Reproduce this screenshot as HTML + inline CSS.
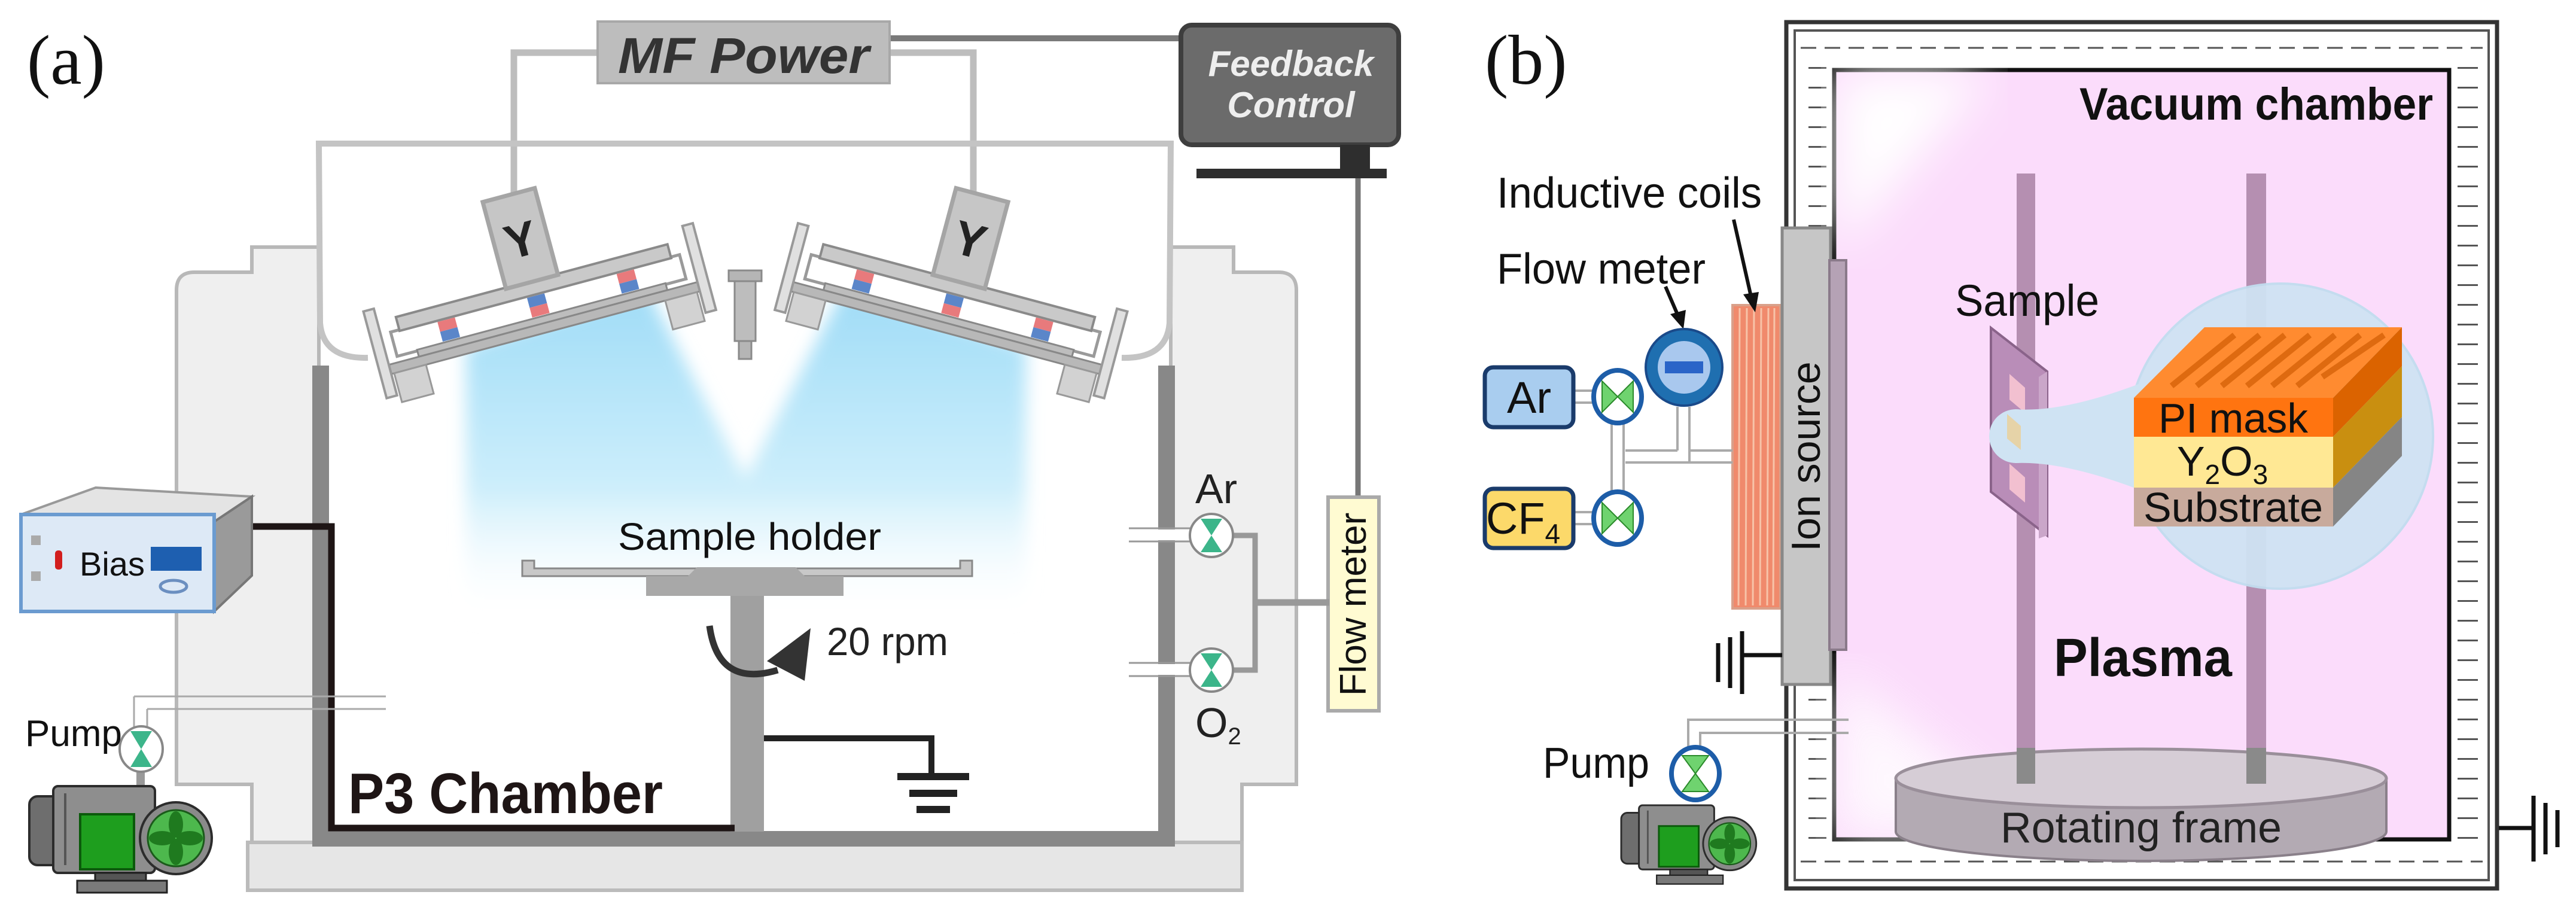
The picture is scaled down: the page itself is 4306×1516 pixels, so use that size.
<!DOCTYPE html>
<html><head><meta charset="utf-8"><style>
html,body{margin:0;padding:0;background:#fff;}
svg{display:block;}
text{font-family:"Liberation Sans",sans-serif;}
</style></head><body>
<svg width="4306" height="1516" viewBox="0 0 4306 1516" xmlns="http://www.w3.org/2000/svg">
<defs>
<linearGradient id="beam" x1="0" y1="0" x2="0" y2="1">
<stop offset="0" stop-color="#9fdcf7"/><stop offset="0.6" stop-color="#cdeefb"/><stop offset="1" stop-color="#ffffff" stop-opacity="0"/>
</linearGradient>
<filter id="blur"><feGaussianBlur stdDeviation="14"/></filter>
<filter id="blur2"><feGaussianBlur stdDeviation="40"/></filter>
<g id="pump">
<rect x="0" y="25" width="60" height="115" rx="14" fill="#6e6e6e" stroke="#2c2c2c" stroke-width="4"/>
<rect x="40" y="8" width="170" height="145" rx="8" fill="#8e8e8e" stroke="#2c2c2c" stroke-width="4"/>
<line x1="60" y1="20" x2="60" y2="140" stroke="#555" stroke-width="4"/>
<rect x="85" y="55" width="90" height="92" fill="#1e9e1e" stroke="#0b5a0b" stroke-width="4"/>
<circle cx="245" cy="95" r="60" fill="#8a8a8a" stroke="#2c2c2c" stroke-width="4"/>
<circle cx="245" cy="95" r="47" fill="#4db84d" stroke="#1a5a1a" stroke-width="3"/>
<ellipse cx="245" cy="72" rx="12" ry="22" fill="#1f7a1f"/>
<ellipse cx="245" cy="118" rx="12" ry="22" fill="#1f7a1f"/>
<ellipse cx="222" cy="95" rx="22" ry="12" fill="#1f7a1f"/>
<ellipse cx="268" cy="95" rx="22" ry="12" fill="#1f7a1f"/>
<rect x="110" y="153" width="85" height="15" fill="#555" stroke="#222" stroke-width="3"/>
<rect x="80" y="166" width="150" height="20" fill="#7a7a7a" stroke="#222" stroke-width="3"/>
</g>
<g id="target">
<rect x="-250" y="-10" width="500" height="42" fill="#fff" stroke="#9a9a9a" stroke-width="5"/>
<rect x="-235" y="-32" width="470" height="24" fill="#c9c9c9" stroke="#8a8a8a" stroke-width="4"/>
<rect x="-45" y="-180" width="90" height="150" fill="#c6c6c6" stroke="#a5a5a5" stroke-width="7"/>
<text x="0" y="-75" font-size="80" font-weight="bold" text-anchor="middle" fill="#222">Y</text>
<rect x="-170" y="-6" width="30" height="17" fill="#e87a7c"/><rect x="-170" y="11" width="30" height="17" fill="#5b86c9"/>
<rect x="-15" y="-6" width="30" height="17" fill="#5b86c9"/><rect x="-15" y="11" width="30" height="17" fill="#e87a7c"/>
<rect x="140" y="-6" width="30" height="17" fill="#e87a7c"/><rect x="140" y="11" width="30" height="17" fill="#5b86c9"/>
<rect x="-215" y="30" width="430" height="12" fill="#bdbdbd" stroke="#888" stroke-width="3"/>
<rect x="-270" y="42" width="540" height="16" fill="#b8b8b8" stroke="#888" stroke-width="3"/>
<rect x="-285" y="-55" width="18" height="150" fill="#e0e0e0" stroke="#999" stroke-width="4"/>
<rect x="267" y="-55" width="18" height="150" fill="#e0e0e0" stroke="#999" stroke-width="4"/>
<rect x="-262" y="58" width="55" height="50" fill="#d2d2d2" stroke="#999" stroke-width="3"/>
<rect x="207" y="58" width="55" height="50" fill="#d2d2d2" stroke="#999" stroke-width="3"/>
</g>
</defs>

<!-- ===== Panel (a) ===== -->
<text x="45" y="140" font-size="118" fill="#111" style="font-family:'Liberation Serif',serif">(a)</text>

<path d="M295,485 Q295,455 325,455 L421,455 L421,413 L533,413 L533,1408 L421,1408 L421,1311 L295,1311 Z" fill="#efefef" stroke="#b8b8b8" stroke-width="6"/>
<path d="M2167,485 Q2167,455 2137,455 L2062,455 L2062,413 L1957,413 L1957,1408 L2076,1408 L2076,1311 L2167,1311 Z" fill="#efefef" stroke="#b8b8b8" stroke-width="6"/>
<rect x="414" y="1408" width="1662" height="80" fill="#e6e6e6" stroke="#bbb" stroke-width="6"/>
<rect x="536" y="250" width="1418" height="1150" fill="#fff"/>

<polyline points="1000,88 859,88 859,330" fill="none" stroke="#bdbdbd" stroke-width="11"/>
<polyline points="1486,88 1627,88 1627,330" fill="none" stroke="#bdbdbd" stroke-width="11"/>
<path d="M615,598 Q540,600 535,540 L533,240 L1957,240 L1955,540 Q1950,600 1875,598" fill="none" stroke="#c4c4c4" stroke-width="10"/>
<line x1="1487" y1="64" x2="1975" y2="64" stroke="#7a7a7a" stroke-width="10"/>
<rect x="999" y="36" width="488" height="103" fill="#bdbdbd" stroke="#a8a8a8" stroke-width="4"/>
<text x="1243" y="122" font-size="84" font-weight="bold" font-style="italic" text-anchor="middle" fill="#333" textLength="420" lengthAdjust="spacingAndGlyphs">MF Power</text>

<polygon points="779,580 1080,480 1246,800 1412,480 1715,580 1715,1040 779,1040" fill="url(#beam)" filter="url(#blur)"/>

<g transform="translate(897,500) rotate(-15)"><use href="#target"/></g>
<g transform="translate(2492,0) scale(-1,1)"><g transform="translate(897,500) rotate(-15)"><use href="#target"/></g></g>
<rect x="1218" y="452" width="55" height="18" fill="#b5b5b5" stroke="#8a8a8a" stroke-width="3"/>
<rect x="1228" y="470" width="35" height="100" fill="#bdbdbd" stroke="#8a8a8a" stroke-width="3"/>
<rect x="1235" y="570" width="21" height="30" fill="#b5b5b5" stroke="#8a8a8a" stroke-width="3"/>

<rect x="522" y="611" width="28" height="800" fill="#888"/>
<rect x="1936" y="611" width="28" height="800" fill="#888"/>
<rect x="522" y="1389" width="1442" height="26" fill="#888"/>

<rect x="1974" y="42" width="364" height="200" rx="18" fill="#6b6b6b" stroke="#3e3e3e" stroke-width="8"/>
<text x="2158" y="127" font-size="60" font-weight="bold" font-style="italic" text-anchor="middle" fill="#eee">Feedback</text>
<text x="2158" y="196" font-size="60" font-weight="bold" font-style="italic" text-anchor="middle" fill="#eee">Control</text>
<rect x="2240" y="242" width="50" height="42" fill="#2e2e2e"/>
<rect x="2000" y="282" width="318" height="16" fill="#2e2e2e"/>
<line x1="2270" y1="298" x2="2270" y2="832" stroke="#777" stroke-width="9"/>
<rect x="2220" y="831" width="85" height="357" fill="#fffbd2" stroke="#aaa" stroke-width="6"/>
<text transform="translate(2283,1010) rotate(-90)" font-size="62" text-anchor="middle" fill="#111">Flow meter</text>

<polyline points="2060,895 2098,895 2098,1120 2060,1120" fill="none" stroke="#999" stroke-width="9"/>
<line x1="2098" y1="1007" x2="2222" y2="1007" stroke="#999" stroke-width="11"/>
<line x1="1887" y1="883" x2="2008" y2="883" stroke="#999" stroke-width="3"/>
<line x1="1887" y1="905" x2="2008" y2="905" stroke="#999" stroke-width="3"/>
<rect x="1887" y="885" width="120" height="18" fill="#fff"/>
<line x1="1887" y1="1108" x2="2008" y2="1108" stroke="#999" stroke-width="3"/>
<line x1="1887" y1="1130" x2="2008" y2="1130" stroke="#999" stroke-width="3"/>
<rect x="1887" y="1110" width="120" height="18" fill="#fff"/>
<g transform="translate(2025,895)"><ellipse rx="36" ry="36" fill="#fff" stroke="#888" stroke-width="4"/><polygon points="-18,-28 18,-28 0,0" fill="#3cb58a"/><polygon points="-18,28 18,28 0,0" fill="#3cb58a"/></g>
<g transform="translate(2025,1120)"><ellipse rx="36" ry="36" fill="#fff" stroke="#888" stroke-width="4"/><polygon points="-18,-28 18,-28 0,0" fill="#3cb58a"/><polygon points="-18,28 18,28 0,0" fill="#3cb58a"/></g>
<text x="1998" y="841" font-size="70" fill="#222">Ar</text>
<text x="1998" y="1232" font-size="70" fill="#222">O<tspan font-size="40" dy="12">2</tspan></text>

<text x="1253" y="919" font-size="64" text-anchor="middle" fill="#111" textLength="440" lengthAdjust="spacingAndGlyphs">Sample holder</text>
<path d="M873,937 L873,963 L1625,963 L1625,937 L1605,937 L1605,950 L893,950 L893,937 Z" fill="#c8c8c8" stroke="#888" stroke-width="3"/>
<path d="M1080,963 L1080,996 L1410,996 L1410,963 Z" fill="#a8a8a8"/>
<polygon points="1150,963 1165,948 1330,948 1345,963" fill="#a8a8a8"/>
<rect x="1221" y="996" width="56" height="394" fill="#a0a0a0"/>
<path d="M1186,1046 Q1200,1150 1300,1120" fill="none" stroke="#333" stroke-width="11"/>
<polygon points="1355,1050 1345,1138 1282,1105" fill="#333"/>
<text x="1382" y="1095" font-size="66" fill="#222" textLength="203" lengthAdjust="spacingAndGlyphs">20 rpm</text>
<polyline points="1277,1234 1557,1234 1557,1296" fill="none" stroke="#222" stroke-width="10"/>
<line x1="1500" y1="1298" x2="1620" y2="1298" stroke="#222" stroke-width="12"/>
<line x1="1520" y1="1326" x2="1600" y2="1326" stroke="#222" stroke-width="12"/>
<line x1="1532" y1="1353" x2="1588" y2="1353" stroke="#222" stroke-width="12"/>

<polyline points="421,880 554,880 554,1384 1228,1384" fill="none" stroke="#1e1515" stroke-width="11"/>
<polygon points="35,860 160,815 421,830 358,872" fill="#e4e4e4" stroke="#999" stroke-width="4"/>
<polygon points="358,872 421,830 421,962 358,1022" fill="#9a9a9a" stroke="#777" stroke-width="4"/>
<rect x="35" y="860" width="323" height="162" fill="#dde9f6" stroke="#6b9bd0" stroke-width="6"/>
<rect x="52" y="895" width="16" height="16" fill="#aaa"/><rect x="52" y="955" width="16" height="16" fill="#aaa"/>
<rect x="92" y="920" width="12" height="32" rx="5" fill="#d21e1e"/>
<text x="133" y="962" font-size="56" fill="#111">Bias</text>
<rect x="252" y="914" width="85" height="40" fill="#1e5fb0"/>
<ellipse cx="290" cy="980" rx="22" ry="10" fill="none" stroke="#6b8fc0" stroke-width="5"/>

<line x1="224" y1="1164" x2="645" y2="1164" stroke="#aaa" stroke-width="3"/>
<line x1="246" y1="1185" x2="645" y2="1185" stroke="#aaa" stroke-width="3"/>
<line x1="224" y1="1164" x2="224" y2="1220" stroke="#aaa" stroke-width="3"/>
<line x1="246" y1="1185" x2="246" y2="1220" stroke="#aaa" stroke-width="3"/>
<rect x="228" y="1278" width="14" height="35" fill="#999"/>
<g transform="translate(236,1252)"><ellipse rx="36" ry="38" fill="#fff" stroke="#888" stroke-width="4"/><polygon points="-18,-30 18,-30 0,0" fill="#3cb58a"/><polygon points="-18,30 18,30 0,0" fill="#3cb58a"/></g>
<text x="42" y="1247" font-size="62" fill="#111">Pump</text>
<use href="#pump" transform="translate(49,1306)"/>
<text x="582" y="1359" font-size="96" font-weight="bold" fill="#1e1515" textLength="526" lengthAdjust="spacingAndGlyphs">P3 Chamber</text>

<!-- ===== Panel (b) ===== -->
<text x="2482" y="140" font-size="118" fill="#111" style="font-family:'Liberation Serif',serif">(b)</text>
<rect x="2986" y="37" width="1188" height="1448" fill="#fff" stroke="#333" stroke-width="7"/>
<rect x="3000" y="51" width="1160" height="1420" fill="none" stroke="#555" stroke-width="4"/>
<line x1="3010" y1="80" x2="4150" y2="80" stroke="#555" stroke-width="3" stroke-dasharray="26 14"/>
<line x1="3010" y1="1440" x2="4150" y2="1440" stroke="#555" stroke-width="3" stroke-dasharray="26 14"/>
<line x1="3038" y1="112" x2="3038" y2="1420" stroke="#555" stroke-width="30" stroke-dasharray="3 30"/>
<line x1="4125" y1="112" x2="4125" y2="1420" stroke="#555" stroke-width="34" stroke-dasharray="3 30"/>
<rect x="3066" y="117" width="1028" height="1286" fill="#fbdcfb" stroke="#111" stroke-width="7"/>
<polygon points="3070,121 3330,121 3070,420" fill="#fff" filter="url(#blur2)"/>
<polygon points="3070,1120 3070,1399 3420,1399" fill="#fff" opacity="0.8" filter="url(#blur2)"/>
<text x="4067" y="200" font-size="76" font-weight="bold" text-anchor="end" fill="#111" textLength="591" lengthAdjust="spacingAndGlyphs">Vacuum chamber</text>

<rect x="3371" y="290" width="31" height="1020" fill="#b58fb1"/>
<rect x="3755" y="290" width="33" height="1020" fill="#b58fb1"/>

<path d="M3169,1301 L3169,1390 A410,49 0 0 0 3989,1390 L3989,1301 Z" fill="#b3aab3" stroke="#8a808a" stroke-width="4"/>
<ellipse cx="3579" cy="1301" rx="410" ry="49" fill="#d6cdd6" stroke="#9a8f9a" stroke-width="5"/>
<rect x="3371" y="1250" width="31" height="60" fill="#8a8a8a"/>
<rect x="3755" y="1250" width="33" height="60" fill="#8a8a8a"/>
<text x="3579" y="1408" font-size="72" text-anchor="middle" fill="#222" textLength="470" lengthAdjust="spacingAndGlyphs">Rotating frame</text>

<rect x="2896" y="510" width="80" height="507" fill="#f08a6c" stroke="#d9a08a" stroke-width="4"/>
<g stroke="#f7c3a8" stroke-width="3">
<line x1="2908" y1="515" x2="2906" y2="1012"/><line x1="2920" y1="515" x2="2918" y2="1012"/><line x1="2932" y1="515" x2="2930" y2="1012"/><line x1="2944" y1="515" x2="2942" y2="1012"/><line x1="2956" y1="515" x2="2954" y2="1012"/><line x1="2966" y1="515" x2="2964" y2="1012"/>
</g>
<rect x="2979" y="381" width="81" height="763" fill="#c6c6c6" stroke="#888" stroke-width="5"/>
<rect x="3058" y="435" width="28" height="651" fill="#b5a2b5" stroke="#8a7a8a" stroke-width="4"/>
<text transform="translate(3042,763) rotate(-90)" font-size="68" text-anchor="middle" fill="#111">Ion source</text>
<line x1="2912" y1="1095" x2="2979" y2="1095" stroke="#111" stroke-width="7"/>
<line x1="2912" y1="1055" x2="2912" y2="1160" stroke="#111" stroke-width="7"/>
<line x1="2892" y1="1065" x2="2892" y2="1150" stroke="#111" stroke-width="7"/>
<line x1="2872" y1="1075" x2="2872" y2="1140" stroke="#111" stroke-width="7"/>

<text x="2502" y="347" font-size="72" fill="#111" textLength="443" lengthAdjust="spacingAndGlyphs">Inductive coils</text>
<line x1="2898" y1="367" x2="2928" y2="500" stroke="#111" stroke-width="6"/>
<polygon points="2934,522 2914,492 2940,488" fill="#111"/>
<text x="2502" y="474" font-size="72" fill="#111" textLength="349" lengthAdjust="spacingAndGlyphs">Flow meter</text>
<line x1="2784" y1="479" x2="2806" y2="530" stroke="#111" stroke-width="6"/>
<polygon points="2814,550 2792,525 2818,518" fill="#111"/>

<g stroke="#aaa" stroke-width="4" fill="none">
<line x1="2804" y1="680" x2="2804" y2="753"/><line x1="2824" y1="680" x2="2824" y2="773"/>
<line x1="2717" y1="753" x2="2804" y2="753"/><line x1="2717" y1="773" x2="2896" y2="773"/>
<line x1="2824" y1="753" x2="2896" y2="753"/>
<line x1="2694" y1="700" x2="2694" y2="830"/><line x1="2714" y1="700" x2="2714" y2="830"/>
<line x1="2630" y1="653" x2="2668" y2="653"/><line x1="2630" y1="673" x2="2668" y2="673"/>
<line x1="2630" y1="856" x2="2668" y2="856"/><line x1="2630" y1="876" x2="2668" y2="876"/>
</g>
<ellipse cx="2815" cy="614" rx="64" ry="64" fill="#1f6fb0" stroke="#1a4a8a" stroke-width="4"/>
<ellipse cx="2815" cy="614" rx="44" ry="44" fill="#a9c8ee"/>
<rect x="2783" y="604" width="64" height="20" fill="#2a64c8"/>
<rect x="2482" y="614" width="148" height="100" rx="14" fill="#a9cdef" stroke="#1a3b6b" stroke-width="7"/>
<text x="2556" y="690" font-size="74" text-anchor="middle" fill="#111">Ar</text>
<rect x="2482" y="817" width="148" height="99" rx="14" fill="#fcd96a" stroke="#1a3b6b" stroke-width="7"/>
<text x="2546" y="892" font-size="74" text-anchor="middle" fill="#111">CF<tspan font-size="46" dy="16">4</tspan></text>
<g transform="translate(2704,663)"><ellipse rx="40" ry="44" fill="#fff" stroke="#1d5da8" stroke-width="8"/><polygon points="-26,-26 -26,26 0,0" fill="#6fd36f" stroke="#2a8a2a" stroke-width="2"/><polygon points="26,-26 26,26 0,0" fill="#6fd36f" stroke="#2a8a2a" stroke-width="2"/></g>
<g transform="translate(2704,866)"><ellipse rx="40" ry="44" fill="#fff" stroke="#1d5da8" stroke-width="8"/><polygon points="-26,-26 -26,26 0,0" fill="#6fd36f" stroke="#2a8a2a" stroke-width="2"/><polygon points="26,-26 26,26 0,0" fill="#6fd36f" stroke="#2a8a2a" stroke-width="2"/></g>

<g stroke="#aaa" stroke-width="4" fill="none">
<polyline points="2822,1250 2822,1203 3090,1203"/><polyline points="2842,1250 2842,1225 3090,1225"/>
</g>
<g transform="translate(2834,1293)"><ellipse rx="40" ry="44" fill="#fff" stroke="#1d5da8" stroke-width="8"/><polygon points="-22,-30 22,-30 0,0" fill="#6fd36f" stroke="#2a8a2a" stroke-width="2"/><polygon points="-22,30 22,30 0,0" fill="#6fd36f" stroke="#2a8a2a" stroke-width="2"/></g>
<text x="2579" y="1300" font-size="72" fill="#111" textLength="178" lengthAdjust="spacingAndGlyphs">Pump</text>
<use href="#pump" transform="translate(2710,1340) scale(0.74)"/>

<text x="3268" y="528" font-size="74" fill="#111" textLength="241" lengthAdjust="spacingAndGlyphs">Sample</text>
<polygon points="3328,548 3422,621 3422,895 3328,822" fill="#b98db8" stroke="#8a638a" stroke-width="4"/>
<polygon points="3408,630 3422,621 3422,895 3408,900" fill="#caa6c9"/>
<polygon points="3359,625 3385,648 3385,690 3359,668" fill="#f2c0d0"/>
<polygon points="3359,775 3385,798 3385,840 3359,818" fill="#f2c0d0"/>
<circle cx="3812" cy="729" r="255" fill="#cfe3f3" stroke="#c2dcef" stroke-width="4" opacity="0.95"/>
<path d="M3368,684 Q3450,690 3580,640 L3580,820 Q3450,770 3368,774 Z" fill="#cfe3f3"/>
<ellipse cx="3370" cy="729" rx="45" ry="45" fill="#cfe3f3"/>
<polygon points="3355,692 3378,712 3378,752 3355,733" fill="#e6d3a8"/>
<polygon points="3567,665 3685,547 4015,547 3900,665" fill="#ff8b30"/>
<g stroke="#de6a10" stroke-width="10">
<line x1="3630" y1="645" x2="3735" y2="560"/><line x1="3672" y1="645" x2="3777" y2="560"/><line x1="3714" y1="645" x2="3819" y2="560"/><line x1="3756" y1="645" x2="3861" y2="560"/><line x1="3798" y1="645" x2="3903" y2="560"/><line x1="3840" y1="645" x2="3945" y2="560"/><line x1="3882" y1="630" x2="3985" y2="560"/>
</g>
<polygon points="3900,665 4015,547 4015,612 3900,730" fill="#db6300"/>
<polygon points="3900,730 4015,612 4015,697 3900,815" fill="#c98f10"/>
<polygon points="3900,815 4015,697 4015,762 3900,880" fill="#858585"/>
<rect x="3567" y="665" width="333" height="65" fill="#ff7410"/>
<rect x="3567" y="730" width="333" height="85" fill="#ffe894"/>
<rect x="3567" y="815" width="333" height="65" fill="#c8aa9c"/>
<text x="3733" y="723" font-size="70" text-anchor="middle" fill="#111" textLength="250" lengthAdjust="spacingAndGlyphs">PI mask</text>
<text x="3715" y="795" font-size="70" text-anchor="middle" fill="#111">Y<tspan font-size="46" dy="14">2</tspan><tspan dy="-14">O</tspan><tspan font-size="46" dy="14">3</tspan></text>
<text x="3733" y="872" font-size="70" text-anchor="middle" fill="#111" textLength="300" lengthAdjust="spacingAndGlyphs">Substrate</text>

<text x="3582" y="1130" font-size="90" font-weight="bold" text-anchor="middle" fill="#111" textLength="298" lengthAdjust="spacingAndGlyphs">Plasma</text>

<line x1="4177" y1="1384" x2="4235" y2="1384" stroke="#111" stroke-width="7"/>
<line x1="4235" y1="1330" x2="4235" y2="1440" stroke="#111" stroke-width="7"/>
<line x1="4255" y1="1342" x2="4255" y2="1428" stroke="#111" stroke-width="7"/>
<line x1="4275" y1="1354" x2="4275" y2="1416" stroke="#111" stroke-width="7"/>
</svg>
</body></html>
